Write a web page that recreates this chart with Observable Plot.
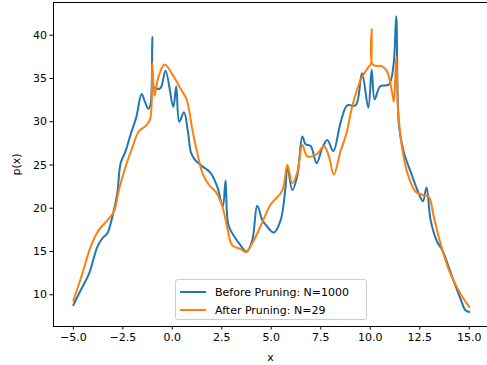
<!DOCTYPE html>
<html>
<head>
<meta charset="utf-8">
<script src="https://cdn.jsdelivr.net/npm/d3@7"></script>
<script src="https://cdn.jsdelivr.net/npm/@observablehq/plot@0.6"></script>
<style>
  body { margin: 0; background: #fff; }
  #wrap { position: relative; width: 487px; height: 365px; font-family: "DejaVu Sans", sans-serif; }
  #legend { position: absolute; left: 175px; top: 279px; width: 190px; height: 39px;
            background: rgba(255,255,255,0.8); border: 1px solid #cccccc; border-radius: 3px; box-sizing: content-box; }
  .row { position: absolute; left: 0; height: 16px; display: flex; align-items: center; font-size: 11px; color: #000; white-space: nowrap; }
  .sw { width: 26px; height: 0; border-top: 2px solid; margin-left: 4px; margin-right: 9px; }
</style>
</head>
<body>
<div id="wrap">
  <div id="chart"></div>
  <div id="legend"></div>
</div>
<script>
const seriesNames = ["Before Pruning: N=1000", "After Pruning: N=29"];
const seriesColors = ["#1f77b4", "#ff7f0e"];

const beforeX = [-5.0,-4.63,-4.21,-3.79,-3.54,-3.28,-3.03,-2.78,-2.61,-2.36,-2.11,-1.82,-1.55,-1.38,-1.21,-1.10,-1.01,-0.93,-0.76,-0.59,-0.34,0.05,0.20,0.35,0.59,0.78,0.95,1.15,1.43,1.93,2.27,2.55,2.69,2.84,3.2,3.45,3.75,4.04,4.29,4.55,4.75,5.13,5.47,5.72,5.81,6.06,6.31,6.57,6.73,6.99,7.29,7.58,7.83,8.13,8.50,8.84,9.26,9.58,9.90,10.07,10.22,10.50,10.94,11.17,11.31,11.45,11.70,12.12,12.45,12.66,12.84,13.05,13.38,13.64,14.14,14.56,14.81,15.0];
const beforeY = [8.8,10.5,12.4,15.5,16.5,17.1,19.0,21.7,25.2,26.6,28.5,30.5,33.2,32.3,31.5,32.0,39.8,34.0,33.8,33.9,35.9,31.7,34.1,30.0,31.1,29.0,26.4,25.6,25.0,24.1,22.5,20.2,23.2,18.0,16.5,15.7,14.95,16.3,20.3,18.6,18.0,17.2,18.6,22.5,24.95,22.1,23.7,28.3,27.4,27.2,25.2,27.0,27.9,26.6,29.9,31.9,31.9,35.6,31.6,36.0,32.6,34.1,34.3,36.5,42.2,29.5,26.4,23.7,21.7,20.8,22.4,18.6,16.1,15.15,12.05,9.5,8.2,8.0];

const afterX = [-5.0,-4.55,-4.13,-3.71,-3.28,-2.95,-2.70,-2.36,-2.02,-1.69,-1.35,-1.12,-1.01,-0.90,-0.71,-0.39,0.0,0.42,0.72,1.01,1.26,1.52,1.85,2.19,2.53,2.78,3.03,3.45,3.70,4.12,4.55,4.96,5.56,5.81,6.06,6.31,6.57,6.82,7.32,7.66,7.91,8.16,8.50,8.80,9.09,9.51,9.93,10.02,10.07,10.13,10.6,10.85,11.1,11.19,11.31,11.40,11.62,11.87,12.29,12.71,12.96,13.21,13.55,14.05,14.56,15.0];
const afterY = [9.3,12.4,15.5,17.5,18.6,19.6,22.1,24.8,27.0,28.9,29.5,30.3,36.8,33.0,35.1,36.6,35.5,33.8,32.6,29.1,26.4,24.1,22.7,21.9,20.2,17.7,15.7,15.3,14.95,16.3,18.4,20.4,22.1,25.0,22.9,24.1,27.3,26.0,26.3,27.2,26.0,23.9,26.6,28.7,31.8,34.8,36.4,36.6,40.7,36.6,36.4,35.8,33.4,32.3,37.5,31.4,26.8,24.1,21.9,21.5,21.3,19.0,15.9,12.4,10.1,8.6];

const xTicks = [-5, -2.5, 0, 2.5, 5, 7.5, 10, 12.5, 15];
const yTicks = [10, 15, 20, 25, 30, 35, 40];

const before = beforeX.map((x, i) => ({x, y: beforeY[i]}));
const after = afterX.map((x, i) => ({x, y: afterY[i]}));

const xDomain = [-6, 15.92];
const yDomain = [6.33, 43.78];

const fmt = d => d.toFixed(1).replace("-", "\u2212");

const chart = Plot.plot({
  width: 487,
  height: 365,
  marginLeft: 53,
  marginRight: 0,
  marginTop: 2,
  marginBottom: 39,
  style: { fontFamily: "DejaVu Sans, sans-serif", fontSize: "11px", color: "#000", background: "#fff" },
  x: { domain: xDomain, ticks: xTicks, tickFormat: fmt, tickSize: 3.5, tickPadding: 3, line: true,
       label: "x", labelArrow: "none", labelAnchor: "center", labelOffset: 34 },
  y: { domain: yDomain, ticks: yTicks, tickFormat: d => String(d), tickSize: 3.5, tickPadding: 3, line: true,
       label: "p(x)", labelArrow: "none", labelAnchor: "center", labelOffset: 41 },
  marks: [
    Plot.ruleY([yDomain[1]], {stroke: "#000", strokeWidth: 1}),
    Plot.line(before, {x: "x", y: "y", stroke: seriesColors[0], strokeWidth: 2, curve: "catmull-rom"}),
    Plot.line(after, {x: "x", y: "y", stroke: seriesColors[1], strokeWidth: 2, curve: "catmull-rom"})
  ]
});
document.getElementById("chart").appendChild(chart);

const legend = document.getElementById("legend");
seriesNames.forEach((name, i) => {
  const row = document.createElement("div");
  row.className = "row";
  row.style.top = (4 + i * 18) + "px";
  const sw = document.createElement("div");
  sw.className = "sw";
  sw.style.borderTopColor = seriesColors[i];
  const t = document.createElement("span");
  t.textContent = name;
  row.appendChild(sw);
  row.appendChild(t);
  legend.appendChild(row);
});
</script>
</body>
</html>
